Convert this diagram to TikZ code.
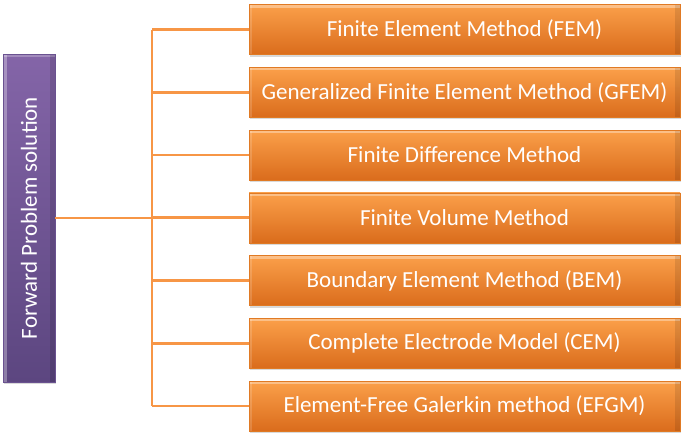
\documentclass[tikz,border=0pt]{standalone}
\usepackage{fontspec}
\setmainfont{Carlito}
\usetikzlibrary{shadows}
\definecolor{obTop}{HTML}{FBA04A}
\definecolor{obMid}{HTML}{F2872B}
\definecolor{obBot}{HTML}{DA6C1C}
\definecolor{obEdge}{HTML}{E07A24}
\definecolor{pTop}{HTML}{8465A8}
\definecolor{pBot}{HTML}{5C4680}
\definecolor{pEdge}{HTML}{6A5290}
\definecolor{link}{HTML}{F79646}
\tikzset{
  labelfont/.style={font=\fontsize{23}{27}\selectfont},
  methodbox/.style={minimum width=431pt, minimum height=50pt, inner sep=0pt,
    top color=obTop, middle color=obMid, bottom color=obBot,
    draw=obEdge, line width=0.5pt, text=white, labelfont,
    drop shadow={shadow xshift=1pt, shadow yshift=-2pt, opacity=0.25, fill=black!60},
    path picture={
      \fill[white,opacity=0.35] (path picture bounding box.north west)
        rectangle ([yshift=-3pt]path picture bounding box.north east);
      \fill[black,opacity=0.10] ([xshift=-5pt]path picture bounding box.north east)
        rectangle (path picture bounding box.south east);
      \fill[white,opacity=0.15] (path picture bounding box.north west)
        rectangle ([xshift=3pt]path picture bounding box.south west);
    }},
  rootbox/.style={minimum width=52pt, minimum height=328pt, inner sep=0pt,
    top color=pTop, bottom color=pBot,
    draw=pEdge, line width=0.5pt, text=white, labelfont,
    drop shadow={shadow xshift=1pt, shadow yshift=-2pt, opacity=0.25, fill=black!60},
    path picture={
      \fill[white,opacity=0.30] (path picture bounding box.north west)
        rectangle ([xshift=4pt]path picture bounding box.south west);
      \fill[white,opacity=0.25] (path picture bounding box.north west)
        rectangle ([yshift=-3pt]path picture bounding box.north east);
      \fill[black,opacity=0.12] ([xshift=-5pt]path picture bounding box.north east)
        rectangle (path picture bounding box.south east);
    }},
  linkline/.style={draw=link, line width=2.6pt}
}
\begin{document}
\begin{tikzpicture}[x=1pt,y=-1pt]
  \useasboundingbox (0,0) rectangle (682,432);
  % root label, read from bottom to top
  \node[rootbox] (root) at (29,218) {\rotatebox{90}{Forward Problem solution}};
  % method boxes
  \node[methodbox] (b1) at (464.5,29.5)  {Finite Element Method (FEM)};
  \node[methodbox] (b2) at (464.5,92.25) {Generalized Finite Element Method (GFEM)};
  \node[methodbox] (b3) at (464.5,155)   {Finite Difference Method};
  \node[methodbox] (b4) at (464.5,217.75){Finite Volume Method};
  \node[methodbox] (b5) at (464.5,280.5) {Boundary Element Method (BEM)};
  \node[methodbox] (b6) at (464.5,343.25){Complete Electrode Model (CEM)};
  \node[methodbox] (b7) at (464.5,406)   {Element-Free Galerkin method (EFGM)};
  % branch points on the bus
  \foreach \i in {1,...,7} {
    \coordinate (j\i) at (b\i.west -| 152,0);
  }
  % connectors
  \draw[linkline] (j1) -- (j7);
  \draw[linkline] (root.east) -- (root.east -| j1);
  \foreach \i in {1,...,7} {
    \draw[linkline] (j\i) -- (b\i.west);
  }
\end{tikzpicture}
\end{document}
